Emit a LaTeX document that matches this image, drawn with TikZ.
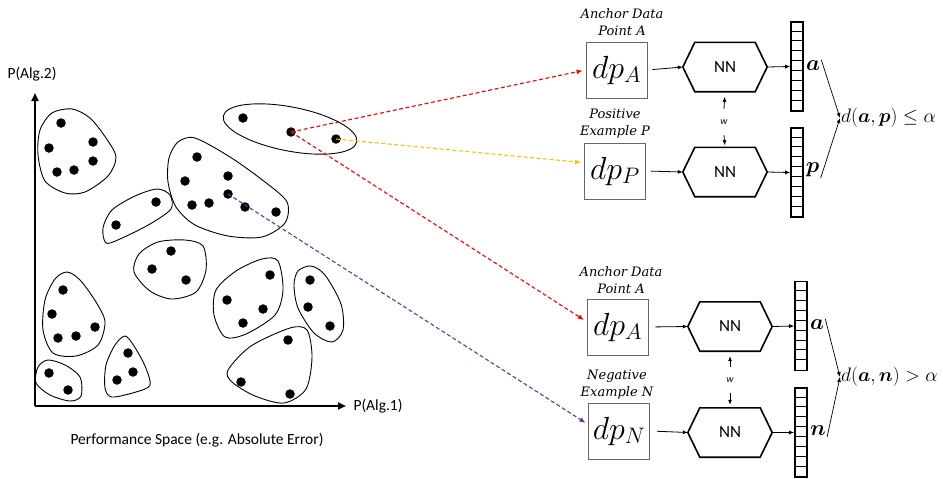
\RequirePackage{fix-cm}
\documentclass[tikz,border=0pt]{standalone}
\usepackage[no-math]{fontspec}
\usepackage{amsmath,bm}
\setmainfont{Carlito}
\newfontfamily\labfont{DejaVu Serif}
\usetikzlibrary{arrows.meta,calc}
\begin{document}
\begin{tikzpicture}[x=1pt,y=-1pt,
  dot/.style={circle,fill=black,inner sep=0pt,minimum size=9.5pt},
  blob/.style={draw=black,line width=0.9pt},
  axis/.style={line width=2pt,-{Triangle[length=8pt,width=7pt]}},
  dpbox/.style={draw=black!60,line width=0.9pt,minimum width=61pt,minimum height=56pt,inner sep=0pt,font=\fontsize{32}{32}\selectfont},
  nnbox/.style={minimum width=84pt,minimum height=49pt,inner sep=0pt,font=\fontsize{17}{17}\selectfont},
  hexline/.style={line width=1.6pt},
  barbox/.style={draw=black,line width=1.6pt,minimum width=12pt,minimum height=89pt,inner sep=0pt},
  arr/.style={line width=0.8pt,-{Latex[length=5pt,width=4pt]}},
  dasharr/.style={line width=1.1pt,dash pattern=on 4pt off 2.5pt,-{Latex[length=6pt,width=5pt]},shorten >=3pt},
  lab/.style={font=\labfont\itshape\fontsize{13}{17}\selectfont,align=center,inner sep=0pt},
  vec/.style={font=\fontsize{22}{22}\selectfont,inner sep=1pt},
  dist/.style={font=\fontsize{19.5}{19.5}\selectfont,inner sep=1pt,anchor=west},
  wlab/.style={font=\fontsize{10}{10}\selectfont,minimum height=26pt,inner sep=0pt},
]
\useasboundingbox (0,0) rectangle (943,479);
% axes
\coordinate (O) at (35,406);
\coordinate (Ytop) at (35,93);
\coordinate (Xend) at (346,406);
\draw[axis] (O) -- (Ytop);
\draw[axis] (O) -- (Xend);
\node[font=\fontsize{15.5}{15.5}\selectfont] (ylab) at (32,74) {P(Alg.2)};
\node[font=\fontsize{15.5}{15.5}\selectfont,anchor=west] (xlab) at (350,406) {P(Alg.1)};
\node[font=\fontsize{15.5}{15.5}\selectfont] (title) at (197,440) {Performance Space (e.g. Absolute Error)};

% clusters
\draw[blob] plot[smooth cycle] coordinates {(40,130) (52,113) (72,109) (90,118) (106,138) (116,157) (108,176) (85,192) (65,193) (45,181) (38,155)};
\node[dot] at (61,123) {};
\node[dot] at (49,148) {};
\node[dot] at (93,142) {};
\node[dot] at (93,161) {};
\node[dot] at (57,172) {};
\node[dot] at (74,170) {};

\draw[blob,shift={(290,129)},rotate=-11] (0,0) ellipse (68 and 22);
\node[dot] (c2a) at (243,118) {};
\node[dot] (c2b) at (291,132) {};
\node[dot] (c2c) at (336,139) {};

\draw[blob] plot[smooth cycle] coordinates {(169,158) (178,142) (195,138) (230,157) (265,182) (287,202) (285,223) (262,237) (228,236) (195,225) (176,207) (168,182)};
\node[dot] at (197,157) {};
\node[dot] at (185,181) {};
\node[dot] at (228,176) {};
\node[dot] (c3d) at (228,194) {};
\node[dot] at (192,205) {};
\node[dot] at (209,203) {};
\node[dot] at (245,207) {};
\node[dot] at (276,212) {};

\draw[blob] plot[smooth cycle] coordinates {(103,228) (112,210) (135,196) (157,189) (170,195) (171,209) (150,224) (120,239) (106,243)};
\node[dot] at (156,202) {};
\node[dot] at (116,225) {};

\draw[blob] plot[smooth cycle] coordinates {(139,254) (158,242) (185,240) (203,246) (206,270) (196,292) (172,299) (150,291) (134,272)};
\node[dot] at (171,251) {};
\node[dot] at (152,269) {};
\node[dot] at (186,280) {};

\draw[blob] plot[smooth cycle] coordinates {(45,300) (55,279) (67,272) (80,280) (96,302) (105,322) (98,345) (76,356) (53,353) (43,330)};
\node[dot] at (63,290) {};
\node[dot] at (52,314) {};
\node[dot] at (58,338) {};
\node[dot] at (76,336) {};
\node[dot] at (95,327) {};

\draw[blob] plot[smooth cycle] coordinates {(38,367) (48,360) (65,365) (80,377) (81,396) (70,401) (50,395) (36,383)};
\node[dot] at (49,373) {};
\node[dot] at (68,390) {};

\draw[blob] plot[smooth cycle] coordinates {(125,336) (134,346) (145,366) (150,385) (136,392) (112,397) (105,388) (106,365) (115,345)};
\node[dot] at (128,353) {};
\node[dot] at (133,372) {};
\node[dot] at (117,380) {};

\draw[blob] plot[smooth cycle] coordinates {(216,290) (236,271) (262,259) (278,261) (283,290) (275,315) (246,334) (225,337) (214,315)};
\node[dot] at (270,275) {};
\node[dot] at (227,300) {};
\node[dot] at (263,309) {};
\node[dot] at (243,323) {};

\draw[blob] plot[smooth cycle] coordinates {(298,271) (311,266) (325,275) (341,304) (343,330) (332,342) (314,333) (298,308) (294,285)};
\node[dot] at (310,280) {};
\node[dot] at (308,307) {};
\node[dot] at (330,326) {};

\draw[blob] plot[smooth cycle] coordinates {(228,370) (251,346) (290,328) (307,330) (312,357) (306,389) (284,403) (255,396) (232,382)};
\node[dot] at (288,340) {};
\node[dot] at (241,382) {};
\node[dot] at (290,394) {};

% ---------- top triplet part ----------
\node[dpbox] (dpA1) at (616.5,70) {$dp_A$};
\node[dpbox] (dpP) at (615,171) {$dp_P$};
\node[lab] (labA1) at (622,22) {Anchor Data\\Point A};
\node[lab] (labP) at (615,124) {Positive\\Example P};

\node[nnbox] (nn1) at (725,67) {NN};
\node[nnbox] (nn2) at (725,172) {NN};
\node[barbox] (bar1) at (797,66.5) {};
\node[barbox] (bar2) at (797,172.5) {};

\node[vec,anchor=west] (va1) at (805,66) {$\bm{a}$};
\node[vec,anchor=west] (vp) at (805,170) {$\bm{p}$};
\node[dist] (d1) at (840,118) {$d(\bm{a},\bm{p})\leq\alpha$};
\node[wlab] (w1) at (724,122) {\itshape w};

% ---------- bottom triplet part ----------
\node[dpbox] (dpA2) at (617.5,327) {$dp_A$};
\node[dpbox] (dpN) at (619,431) {$dp_N$};
\node[lab] (labA2) at (621,280) {Anchor Data\\Point A};
\node[lab] (labN) at (617,385) {Negative\\Example N};

\node[nnbox] (nn3) at (730,326.5) {NN};
\node[nnbox] (nn4) at (730,432.5) {NN};
\node[barbox] (bar3) at (801,326) {};
\node[barbox] (bar4) at (801,432.5) {};

\node[vec,anchor=west] (va2) at (809,325) {$\bm{a}$};
\node[vec,anchor=west] (vn) at (809,431) {$\bm{n}$};
\node[dist] (d2) at (840,377) {$d(\bm{a},\bm{n})>\alpha$};
\node[wlab] (w2) at (730,380) {\itshape w};

% hexagons and bars
\foreach \n in {nn1,nn2,nn3,nn4}{
  \draw[hexline] (\n.west) -- ([xshift=12pt]\n.north west) -- ([xshift=-12pt]\n.north east) -- (\n.east)
    -- ([xshift=-12pt]\n.south east) -- ([xshift=12pt]\n.south west) -- cycle;
}
\foreach \b in {bar1,bar2,bar3,bar4}{
  \foreach \i in {1,...,8}{
    \draw[line width=1pt] ([yshift=-\i*9.89pt]\b.north west) -- ([yshift=-\i*9.89pt]\b.north east);
  }
}

% solid arrows
\draw[arr,shorten <=5pt] (dpA1.east) -- (nn1.west);
\draw[arr,shorten <=5pt] (dpP.east) -- (nn2.west);
\draw[arr] (nn1.east) -- (bar1.west);
\draw[arr] (nn2.east) -- (bar2.west);
\draw[arr,shorten <=7pt] (dpA2.east) -- (nn3.west);
\draw[arr,shorten <=7pt] (dpN.east) -- (nn4.west);
\draw[arr] (nn3.east) -- (bar3.west);
\draw[arr] (nn4.east) -- (bar4.west);

\draw[arr,line width=0.7pt] (va1.north east) -- (d1.west);
\draw[arr,line width=0.7pt] (vp.south east) -- (d1.west);
\draw[arr,line width=0.7pt] (va2.north east) -- (d2.west);
\draw[arr,line width=0.7pt] (vn.south east) -- (d2.west);

\draw[arr,shorten >=5pt] (w1.north) -- (nn1.south);
\draw[arr,shorten >=2pt] (w1.south) -- (nn2.north);
\draw[arr,shorten >=5pt] (w2.north) -- (nn3.south);
\draw[arr,shorten >=3pt] (w2.south) -- (nn4.north);

% dashed colored arrows
\definecolor{myred}{HTML}{FF0000}
\definecolor{myyellow}{HTML}{FFC000}
\definecolor{mypurple}{HTML}{7030A0}
\draw[dasharr,myred] (c2b.center) -- (dpA1.west);
\draw[dasharr,myyellow] (c2c.center) -- (dpP.165);
\draw[dasharr,myred] (c2b.center) -- (dpA2.170);
\draw[dasharr,mypurple] (c3d.center) -- (dpN.168);
\end{tikzpicture}
\end{document}
